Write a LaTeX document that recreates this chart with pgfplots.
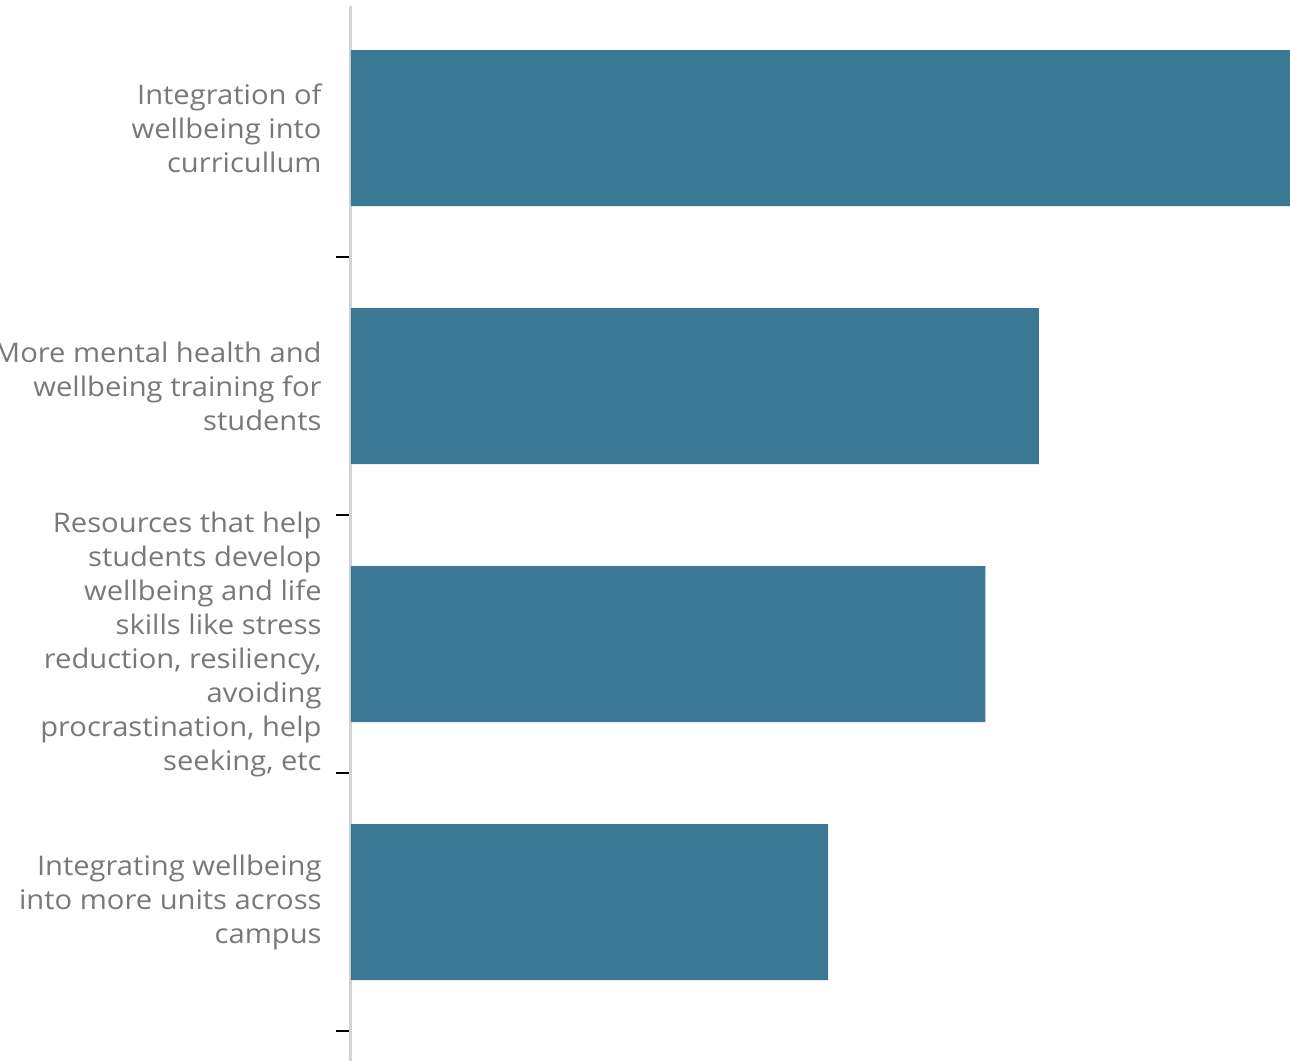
\documentclass[border=0pt]{standalone}
\usepackage{pgfplots}
\pgfplotsset{compat=1.18}
\usepackage{fontspec}
\setmainfont{Open Sans}[FakeStretch=1.08]
\definecolor{barblue}{RGB}{58,120,148}
\definecolor{axgray}{RGB}{211,211,211}
\definecolor{labgray}{RGB}{120,120,120}
\begin{document}
\begin{tikzpicture}
\begin{axis}[
  name=ax,
  scale only axis,
  width=469.5pt, height=527.5pt,
  xbar, bar width=0.605,
  xmin=0, xmax=37,
  ymin=-0.473, ymax=3.616,
  y dir=reverse,
  axis x line=none,
  axis y line*=left,
  y axis line style={draw=axgray, line width=1.5pt},
  ytick={0,1,2,3},
  yticklabels={
    {Integration of\\wellbeing into\\curricullum},
    {More mental health and\\wellbeing training for\\students},
    {Resources that help\\students develop\\wellbeing and life\\skills like stress\\reduction, resiliency,\\avoiding\\procrastination, help\\seeking, etc},
    {Integrating wellbeing\\into more units across\\campus}},
  major tick length=0pt,
  minor ytick={0.5,1.5,2.5,3.5},
  minor tick length=7.5pt,
  tick align=outside,
  minor tick style={black, line width=1.25pt},
  yticklabel style={align=right, anchor=east, inner sep=0pt, xshift=-14.5pt,
    font=\fontsize{13.5}{17}\selectfont, text=labgray},
  clip=false,
]
\addplot[fill=barblue, draw=none] coordinates {(37,0) (27.1,1) (25.0,2) (18.8,3)};
\end{axis}
\pgfresetboundingbox
\path ([xshift=-175.5pt, yshift=3pt]ax.north west) rectangle (ax.south east);
\end{tikzpicture}
\end{document}
